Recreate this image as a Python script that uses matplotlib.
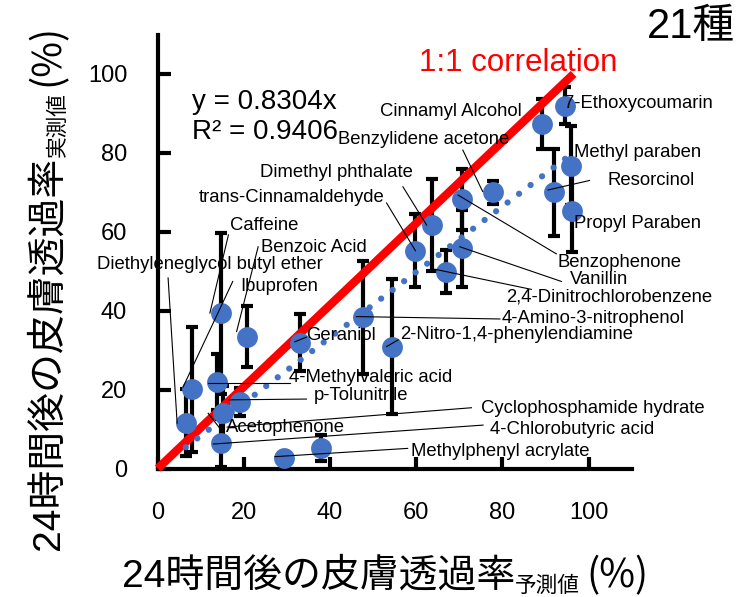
import matplotlib.pyplot as plt
import numpy as np

plt.rcParams['font.family'] = ['Liberation Sans', 'Noto Sans CJK JP', 'DejaVu Sans']

# compounds, predicted (x) and measured (y) 24h skin permeation, measured SD
names = ['Caffeine', 'Benzoic Acid', 'Ibuprofen', '4-Methylvaleric acid', 'p-Tolunitrile',
         'Diethyleneglycol butyl ether', 'Cyclophosphamide hydrate', '4-Chlorobutyric acid',
         'Methylphenyl acrylate', 'Acetophenone', 'Geraniol', '4-Amino-3-nitrophenol',
         '2-Nitro-1,4-phenylendiamine', 'trans-Cinnamaldehyde', 'Dimethyl phthalate',
         '2,4-Dinitrochlorobenzene', 'Benzophenone', 'Vanillin', 'Benzylidene acetone',
         'Cinnamyl Alcohol', '7-Ethoxycoumarin', 'Methyl paraben', 'Resorcinol', 'Propyl Paraben']
pred = [14.7, 20.6, 7.9, 13.7, 19.1, 6.5, 15.2, 14.6, 29.3, 38.0, 33.1, 47.7,
        54.4, 59.8, 63.7, 66.8, 70.6, 70.7, 77.7, 89.2, 94.6, 95.8, 91.9, 96.2]
meas = [39.3, 33.4, 20.1, 21.9, 16.9, 11.6, 14.0, 6.5, 2.7, 5.3, 31.9, 38.3,
        30.9, 55.2, 61.7, 49.9, 68.2, 55.8, 70.0, 87.3, 91.9, 76.7, 70.0, 65.3]
sd = [20.5, 7.7, 15.8, 7.0, 3.6, 8.5, 7.0, 6.0, 0.0, 3.3, 7.2, 14.4,
      17.1, 9.3, 11.7, 5.4, 7.8, 9.7, 2.9, 6.3, 4.7, 10.0, 11.1, 10.3]

slope = 0.8304
r2 = 0.9406

# label placement (left edge, vertical centre) in data units
label_x = [16.8, 23.9, 19.1, 30.5, 36.2, -14.1, 75.0, 77.0, 58.7, 15.8, 34.5, 79.8,
           56.2, 9.4, 23.7, 80.8, 92.8, 95.6, 41.8, 51.5, 94.2, 96.5, 104.4, 96.5]
label_y = [61.7, 55.9, 46.1, 23.0, 18.6, 51.6, 15.3, 10.0, 4.2, 10.3, 33.6, 37.9,
           33.9, 68.6, 75.0, 43.5, 52.3, 48.0, 83.3, 90.4, 92.4, 80.0, 72.9, 62.2]
# leader lines: (x0, y0, x1, y1) or None
leaders = [(16.4, 59.2, 12.1, 39.4), (23.3, 56.2, 18.3, 34.7), (17.4, 47.4, 5.9, 20.7),
           (11.7, 21.7, 30.7, 21.7), (16.4, 17.4, 34.5, 17.6), (2.4, 48.3, 4.5, 11.5),
           (16.1, 10.5, 72.8, 15.4), (12.9, 6.2, 75.5, 11.0), (27.2, 3.0, 58.0, 5.1),
           (11.7, 14.0, 14.4, 10.2), (34.5, 33.3, 31.8, 32.1), (46.1, 38.5, 79.4, 37.9),
           (55.8, 32.6, 53.1, 30.9), (53.1, 67.3, 59.8, 55.2), (56.9, 71.4, 62.4, 61.7),
           (64.3, 50.5, 86.7, 45.4), (69.7, 69.3, 92.5, 54.4), (70.1, 56.2, 93.7, 47.4),
           (70.8, 80.7, 75.4, 70.2), None, None, None, (90.6, 70.6, 100.2, 73.0), None]

W, H = 742, 597
fig = plt.figure(figsize=(W / 100, H / 100), dpi=100)
ax = fig.add_axes([157.75 / W, 128.5 / H, 474 / W, 434 / H])

ax.errorbar(pred, meas, yerr=sd, fmt='none', ecolor='black', elinewidth=3,
            capsize=4.3, capthick=3, zorder=2)
ax.plot([0, 96.5], [0, 100], color='#FF0000', lw=6, solid_capstyle='butt', zorder=3, clip_on=False)
xt = np.array([min(pred), max(pred)])
ax.plot(xt, slope * xt, color='#4472C4', lw=4.5, linestyle=(0, (0.01, 2.3)),
        dash_capstyle='round', zorder=3.5)
ax.plot(pred, meas, 'o', ms=15, color='#4472C4', mec='none', zorder=4)

for i, name in enumerate(names):
    ax.text(label_x[i], label_y[i], name, fontsize=13.3, ha='left', va='center', zorder=6)
    if leaders[i] is not None:
        x0, y0, x1, y1 = leaders[i]
        ax.plot([x0, x1], [y0, y1], color='black', lw=0.8, zorder=5, clip_on=False)

ax.text(8.0, 93.0, 'y = %.4fx' % slope, fontsize=20, ha='left', va='center')
ax.text(8.0, 85.4, 'R\u00b2 = %.4f' % r2, fontsize=20, ha='left', va='center')
ax.text(60.6, 102.8, '1:1 correlation', fontsize=22.5, color='#FF0000', ha='left', va='center')

ax.set_xlim(0, 110)
ax.set_ylim(0, 110)
ax.set_xticks(np.arange(0, 101, 20))
ax.set_yticks(np.arange(0, 101, 20))
for s in ['top', 'right']:
    ax.spines[s].set_visible(False)
for s in ['left', 'bottom']:
    ax.spines[s].set_linewidth(3)
ax.tick_params(direction='in', length=9, width=3, labelsize=17)
ax.tick_params(axis='y', pad=22)
ax.tick_params(axis='x', pad=24)

fig.text(735 / W, (H - 27) / H, '21種', fontsize=30, ha='right', va='center')

# axis titles with smaller subscript, built piece by piece
cjk = ['Noto Sans CJK JP', 'DejaVu Sans']
latin = ['Liberation Sans', 'Noto Sans CJK JP']

def chain_label(x_px, y_px, parts, vertical=False):
    r = fig.canvas.get_renderer()
    pos = 0
    for s, size, shift, gap, fam in parts:
        pos += gap
        if vertical:
            t = fig.text((x_px + shift) / W, (H - y_px + pos) / H, s, fontsize=size, family=fam,
                         rotation=90, rotation_mode='anchor', ha='left', va='baseline')
            pos += t.get_window_extent(r).height
        else:
            t = fig.text((x_px + pos) / W, (H - y_px - shift) / H, s, fontsize=size, family=fam,
                         ha='left', va='baseline')
            pos += t.get_window_extent(r).width

xlabel_parts = [('24時間後の皮膚透過率', 28, 0, 0, latin), ('予測値', 15.6, 5, 0, latin),
                ('(%)', 28, 0, 6, cjk)]
ylabel_parts = [('24時間後の皮膚透過率', 28, 0, 0, latin), ('実測値', 15.6, 5, 0, latin),
                ('(%)', 28, 0, 6, cjk)]
chain_label(122, 587, xlabel_parts)
chain_label(59, 550, ylabel_parts, vertical=True)

fig.savefig('out.png', dpi=100)
